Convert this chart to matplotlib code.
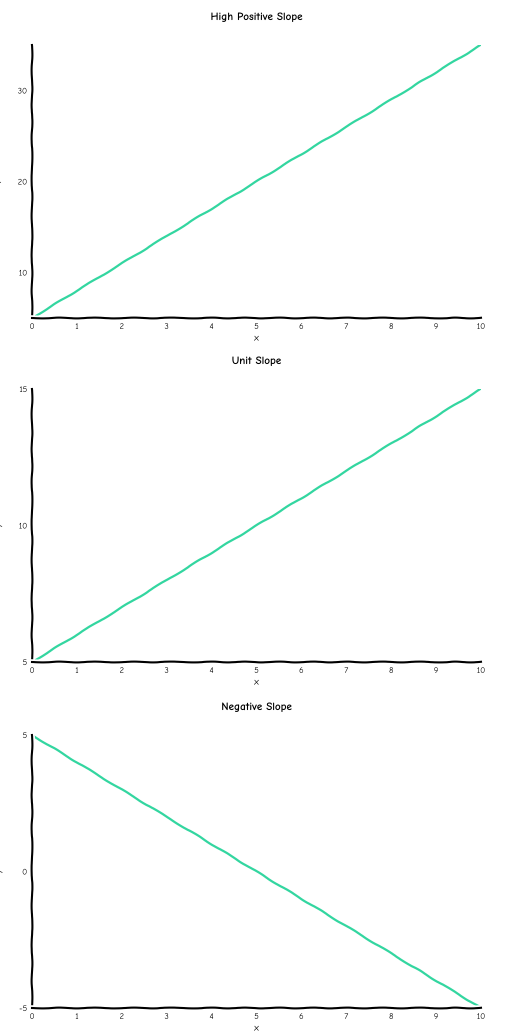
import numpy as np
import matplotlib
matplotlib.use("Agg")
import matplotlib.pyplot as plt

x = [0, 10]
titles = ["High Positive Slope", "Unit Slope", "Negative Slope"]
y_high = [5, 35]
y_unit = [5, 15]
y_neg = [5, -5]
series = [y_high, y_unit, y_neg]
yticks = [[10, 20, 30], [5, 10, 15], [-5, 0, 5]]
xticks = list(range(0, 11))

with plt.xkcd(scale=0.4, length=40, randomness=2):
    plt.rcParams['font.family'] = ['Humor Sans', 'Comic Neue', 'DejaVu Sans']
    fig = plt.figure(figsize=(5.08, 10.34), dpi=100)
    bottoms = [1 - 318/1034, 1 - 662/1034, 1 - 1008/1034]
    height = 273/1034
    for i in range(3):
        ax = fig.add_axes([32/508, bottoms[i], 449/508, height])
        xs = np.linspace(x[0], x[1], 50)
        ys = np.interp(xs, x, series[i])
        ax.plot(xs, ys, color='#33d6a0', lw=1.6)
        ax.set_xlim(0, 10)
        ax.set_ylim(min(series[i]), max(series[i]))
        ax.set_xticks(xticks)
        ax.set_yticks(yticks[i])
        ax.tick_params(labelsize=6, length=0)
        ax.spines['top'].set_visible(False)
        ax.spines['right'].set_visible(False)
        ax.set_title(titles[i], fontsize=8, fontweight='bold', pad=18)
        ax.set_xlabel('x', fontsize=7, labelpad=2)
        ax.set_ylabel('y', fontsize=7, labelpad=12)
    fig.savefig('out.png', dpi=100)
